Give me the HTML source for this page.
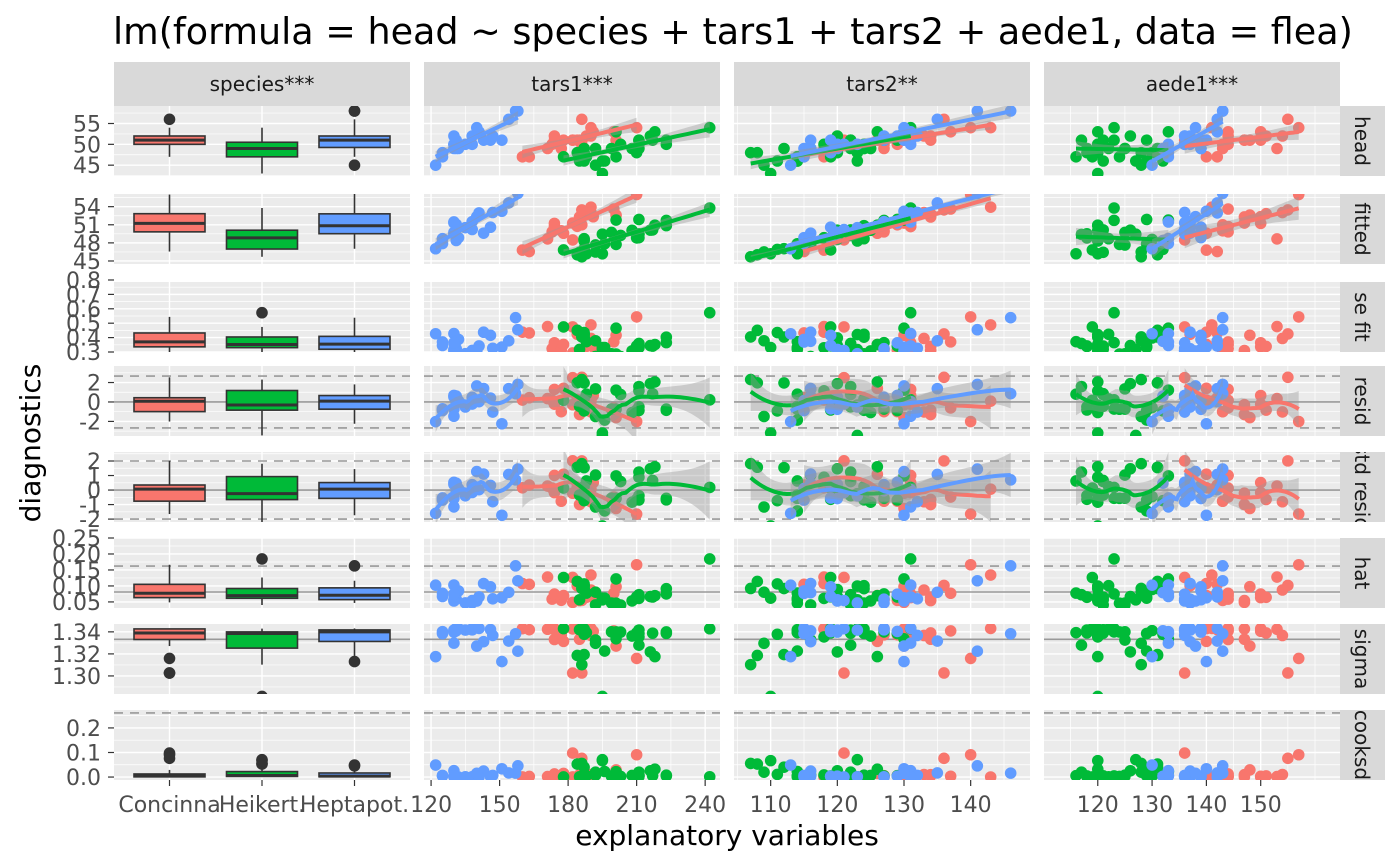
<!DOCTYPE html>
<html><head><meta charset="utf-8"><style>
html,body{margin:0;background:#fff;width:1400px;height:865px;overflow:hidden;}
svg{display:block;font-family:"DejaVu Sans","Liberation Sans",sans-serif;}
</style></head><body>
<svg id="chart" width="1400" height="865" viewBox="0 0 1400 865">
<text x="113" y="44" font-size="36.5" fill="#000">lm(formula = head ~ species + tars1 + tars2 + aede1, data = flea)</text>
<text transform="translate(40,443) rotate(-90)" text-anchor="middle" font-size="28" fill="#000">diagnostics</text>
<text x="727" y="845" text-anchor="middle" font-size="28" fill="#000">explanatory variables</text>
</svg>
<script>
// ---------- data (flea, approx) ----------
const speciesNames=["Concinna","Heikert.","Heptapot."];
const speciesColors=["#F8766D","#00BA38","#619CFF"];
const concinna=[[191,131,150,53],[185,134,147,51],[200,137,144,53],[173,127,144,50],[171,118,153,49],[160,118,140,47],[188,134,151,52],[186,129,143,50],[174,131,144,52],[163,115,142,47],[190,143,141,54],[174,131,150,51],[201,130,148,51],[190,133,154,52],[182,130,147,51],[184,131,137,51],[177,127,143,49],[178,126,140,51],[210,140,157,54],[182,121,136,51],[186,136,155,56]];
const heikert=[[186,107,128,48],[211,122,118,49],[201,114,124,47],[242,131,123,54],[184,108,131,48],[211,118,120,50],[217,122,121,51],[223,127,123,51],[208,125,120,49],[199,124,125,49],[211,129,129,51],[218,126,120,53],[203,122,121,50],[192,116,125,49],[195,123,127,46],[211,122,117,51],[187,123,120,48],[192,109,128,45],[223,124,120,50],[188,114,116,47],[216,120,126,52],[185,114,121,46],[178,119,119,47],[187,111,132,46],[187,112,131,49],[201,130,133,53],[187,120,130,48],[210,119,118,48],[196,114,129,46],[195,110,120,43],[187,124,122,49]];
const heptapot=[[158,141,143,58],[146,119,139,51],[151,130,140,51],[122,113,130,45],[138,121,136,50],[132,115,139,49],[131,127,137,51],[135,123,137,50],[125,119,133,48],[130,120,139,49],[130,131,133,50],[138,127,137,52],[130,120,136,50],[143,116,137,51],[154,135,142,56],[147,132,136,52],[141,131,142,53],[131,116,132,49],[125,115,133,47],[130,129,136,52],[140,130,138,54],[157,146,143,58]];
const rowNames=["head","fitted","se fit","resid","std resid","hat","sigma","cooksd"];
const colNames=["species***","tars1***","tars2**","aede1***"];
const rowTicks=[[45,50,55],[45,48,51,54],[0.3,0.4,0.5,0.6,0.7,0.8],[-2,0,2],[-2,-1,0,1,2],[0.05,0.10,0.15,0.20,0.25],null,[0.0,0.1,0.2]];
const rowTickLabels=[["45","50","55"],["45","48","51","54"],["0.3","0.4","0.5","0.6","0.7","0.8"],["-2","0","2"],["-2","-1","0","1","2"],["0.05","0.10","0.15","0.20","0.25"],null,["0.0","0.1","0.2"]];
const rowDomains=[[42.4,59.2],[44.5,56.1],[0.3,0.786],[-3.5,3.7],[-2.2,2.62],[0.031,0.25],null,[-0.012,0.273]];
const colTicks=[null,[120,150,180,210,240],[110,120,130,140],[120,130,140,150]];
const colDomains=[[0.4,3.6],[116.9,246.5],[104.5,148.9],[110.1,164.6]];

// ---------- layout ----------
const colX=[114,424,734,1044], colW=296;
const rowY=[106,194,282,366,452,538,624,710], rowH=70;
const NS="http://www.w3.org/2000/svg";
const svg=document.getElementById('chart');
function el(tag,attrs,parent){const e=document.createElementNS(NS,tag);for(const k in attrs)e.setAttribute(k,attrs[k]);(parent||svg).appendChild(e);return e;}

// ---------- assemble & fit ----------
const sp=[],T1=[],T2=[],A1=[],H=[];
[concinna,heikert,heptapot].forEach((arr,s)=>arr.forEach(r=>{sp.push(s);T1.push(r[0]);T2.push(r[1]);A1.push(r[2]);H.push(r[3]);}));
const n=H.length,p=6;
function solve(A,b){const m=A.length;const M=A.map((r,i)=>r.concat([b[i]]));for(let i=0;i<m;i++){let mx=i;for(let k=i+1;k<m;k++)if(Math.abs(M[k][i])>Math.abs(M[mx][i]))mx=k;[M[i],M[mx]]=[M[mx],M[i]];const d=M[i][i]||1e-12;for(let j=i;j<=m;j++)M[i][j]/=d;for(let k=0;k<m;k++)if(k!==i){const f=M[k][i];for(let j=i;j<=m;j++)M[k][j]-=f*M[i][j];}}return M.map(r=>r[m]);}
function inv(A){const m=A.length;const R=A.map(()=>new Array(m).fill(0));for(let j=0;j<m;j++){const col=solve(A,A.map((_,i)=>i===j?1:0));col.forEach((v,i)=>{R[i][j]=v;});}return R;}
const X=H.map((_,i)=>[1,sp[i]===1?1:0,sp[i]===2?1:0,T1[i],T2[i],A1[i]]);
const XtX=[...Array(p)].map((_,a)=>[...Array(p)].map((_,b)=>X.reduce((s,r)=>s+r[a]*r[b],0)));
const Xty=[...Array(p)].map((_,a)=>X.reduce((s,r,i)=>s+r[a]*H[i],0));
const beta=solve(XtX,Xty);const XtXi=inv(XtX);
const fit=X.map(r=>r.reduce((s,v,k)=>s+v*beta[k],0));
const res=H.map((y,i)=>y-fit[i]);
const hat=X.map(r=>{let s=0;for(let a=0;a<p;a++)for(let b=0;b<p;b++)s+=r[a]*XtXi[a][b]*r[b];return s;});
const RSS=res.reduce((s,e)=>s+e*e,0);const sig=Math.sqrt(RSS/(n-p));
const sefit=hat.map(h=>sig*Math.sqrt(h));
const stdres=res.map((e,i)=>e/(sig*Math.sqrt(1-hat[i])));
const sigi=res.map((e,i)=>Math.sqrt((RSS-e*e/(1-hat[i]))/(n-p-1)));
const cook=res.map((e,i)=>e*e*hat[i]/(p*sig*sig*(1-hat[i])**2));
// sigma row axis follows the model sigma
const sgTop=Math.round(sig*50)/50;
rowTicks[6]=[sgTop-0.04,sgTop-0.02,sgTop];
rowTickLabels[6]=rowTicks[6].map(v=>v.toFixed(2));
rowDomains[6]=[sgTop-0.0564,Math.max(...sigi)+0.004];
const rowVals=[H,fit,sefit,res,stdres,hat,sigi,cook];
const colVals=[sp.map(s=>s+1),T1,T2,A1];
const refLines=[[],[],[],[[0,0],[2*sig,1],[-2*sig,1]],[[0,0],[2,1],[-2,1]],[[p/n,0],[2*p/n,1]],[[sig,0]],[[0.261,1]]];

// ---------- helpers ----------
function sx(c,v){const d=colDomains[c];return colX[c]+(v-d[0])/(d[1]-d[0])*colW;}
function sy(r,v){const d=rowDomains[r];return rowY[r]+rowH-(v-d[0])/(d[1]-d[0])*rowH;}
function lmFit(xs,ys){const m=xs.length,mx=xs.reduce((a,b)=>a+b,0)/m,my=ys.reduce((a,b)=>a+b,0)/m;let sxx=0,sxy=0;xs.forEach((x,i)=>{sxx+=(x-mx)**2;sxy+=(x-mx)*(ys[i]-my);});const b=sxy/sxx,a=my-b*mx;const s2=ys.reduce((s,y,i)=>s+(y-a-b*xs[i])**2,0)/(m-2);return x=>{const y=a+b*x;return [y,2.04*Math.sqrt(s2*(1/m+(x-mx)**2/sxx))];};}
function loessFit(xs,ys){const m=xs.length,k=Math.ceil(0.75*m);
 const at=x0=>{const d=xs.map(x=>Math.abs(x-x0));const h=d.slice().sort((a,b)=>a-b)[k-1]*1.0001||1;const w=d.map(v=>v<h?(1-(v/h)**3)**3:0);
  const A=[[0,0,0],[0,0,0],[0,0,0]];const Z=xs.map(x=>[1,x-x0,(x-x0)**2]);Z.forEach((z,i)=>{for(let a=0;a<3;a++)for(let b=0;b<3;b++)A[a][b]+=w[i]*z[a]*z[b];});
  const Ai=inv(A);return Z.map((z,i)=>w[i]*(Ai[0][0]*z[0]+Ai[0][1]*z[1]+Ai[0][2]*z[2]));};
 const fitted=xs.map(x=>{const l=at(x);return l.reduce((s,v,i)=>s+v*ys[i],0);});
 const s=Math.sqrt(ys.reduce((a,y,i)=>a+(y-fitted[i])**2,0)/Math.max(1,m-4));
 return x=>{const l=at(x);return [l.reduce((a,v,i)=>a+v*ys[i],0),2*s*Math.sqrt(l.reduce((a,v)=>a+v*v,0))];};}
function quant(a,q){const s=a.slice().sort((x,y)=>x-y);const pos=(s.length-1)*q,lo=Math.floor(pos);return s[lo]+(s[Math.min(lo+1,s.length-1)]-s[lo])*(pos-lo);}

// ---------- strips ----------
colNames.forEach((nm,c)=>{
 const g=el('g',{});
 el('rect',{x:colX[c],y:62,width:colW,height:44,fill:'#D9D9D9'},g);
 el('text',{x:colX[c]+colW/2,y:91,'text-anchor':'middle','font-size':20,fill:'#1A1A1A'},g).textContent=nm;
});
const defs=el('defs',{});
rowNames.forEach((nm,r)=>{
 const cp=el('clipPath',{id:'sc'+r},defs);el('rect',{x:1340,y:rowY[r],width:45,height:rowH},cp);
 const g=el('g',{'clip-path':'url(#sc'+r+')'});
 el('rect',{x:1340,y:rowY[r],width:45,height:rowH,fill:'#D9D9D9'},g);
 el('text',{transform:`translate(1355,${rowY[r]+rowH/2}) rotate(90)`,'text-anchor':'middle','font-size':20,fill:'#1A1A1A'},g).textContent=nm;
});

// ---------- panels ----------
for(let r=0;r<8;r++){
 rowTicks[r].forEach((t,i)=>{const y=sy(r,t);
  el('line',{x1:108,x2:114,y1:y,y2:y,stroke:'#333','stroke-width':1.2});
  const tx=el('text',{x:101,y:y+8,'text-anchor':'end','font-size':22,fill:'#4D4D4D'});
  tx.textContent=rowTickLabels[r][i];});
 for(let c=0;c<4;c++){
  const cid='pc'+r+'_'+c;const cp=el('clipPath',{id:cid},defs);el('rect',{x:colX[c],y:rowY[r],width:colW,height:rowH},cp);
  const g=el('g',{'clip-path':`url(#${cid})`});
  
  
  el('rect',{x:colX[c],y:rowY[r],width:colW,height:rowH,fill:'#EBEBEB'},g);
  const tk=rowTicks[r],st=tk[1]-tk[0];
  for(let v=tk[0]-st*3;v<=tk[tk.length-1]+st*3;v+=st/2){const y=sy(r,v);const major=tk.some(t=>Math.abs(t-v)<st*1e-3);
   el('line',{x1:colX[c],x2:colX[c]+colW,y1:y,y2:y,stroke:'#fff','stroke-width':major?1.4:0.7},g);}
  if(c===0){[1,2,3].forEach(v=>{const x=sx(0,v);el('line',{x1:x,x2:x,y1:rowY[r],y2:rowY[r]+rowH,stroke:'#fff','stroke-width':1.4},g);});}
  else{const ct=colTicks[c],cs=ct[1]-ct[0];for(let v=ct[0]-cs*2;v<=ct[ct.length-1]+cs*2;v+=cs/2){const x=sx(c,v);const major=ct.some(t=>Math.abs(t-v)<cs*1e-3);
   el('line',{x1:x,x2:x,y1:rowY[r],y2:rowY[r]+rowH,stroke:'#fff','stroke-width':major?1.4:0.7},g);}}
  refLines[r].forEach(([v,d])=>{const y=sy(r,v);const ln=el('line',{x1:colX[c],x2:colX[c]+colW,y1:y,y2:y,stroke:'#999','stroke-width':1.6},g);if(d)ln.setAttribute('stroke-dasharray','9,7');
   });
  const yv=rowVals[r];
  if(c===0){
   for(let s=0;s<3;s++){
    const vals=yv.filter((_,i)=>sp[i]===s);const q1=quant(vals,0.25),q2=quant(vals,0.5),q3=quant(vals,0.75),iqr=q3-q1;
    const inl=vals.filter(v=>v>=q1-1.5*iqr&&v<=q3+1.5*iqr);const lo=Math.min(...inl),hi=Math.max(...inl);
    const cx=sx(0,s+1),bw=71;
    const bg=el('g',{},g);
    el('line',{x1:cx,x2:cx,y1:sy(r,hi),y2:sy(r,lo),stroke:'#333','stroke-width':1.6},bg);
    el('rect',{x:cx-bw/2,y:sy(r,q3),width:bw,height:Math.max(1,sy(r,q1)-sy(r,q3)),fill:speciesColors[s],stroke:'#333','stroke-width':1.6},bg);
    el('line',{x1:cx-bw/2,x2:cx+bw/2,y1:sy(r,q2),y2:sy(r,q2),stroke:'#333','stroke-width':3},bg);
    vals.filter(v=>v<q1-1.5*iqr||v>q3+1.5*iqr).forEach(v=>{const o=el('circle',{cx:cx,cy:sy(r,v),r:5.8,fill:'#333'},bg);
     });
   }
  } else {
   const xv=colVals[c];
   for(let i=0;i<n;i++){const pt=el('circle',{cx:sx(c,xv[i]),cy:sy(r,yv[i]),r:5.8,fill:speciesColors[sp[i]]},g);
    }
   if(r<=1||r===3||r===4){
    for(let s=0;s<3;s++){
     const xs=xv.filter((_,i)=>sp[i]===s),ys=yv.filter((_,i)=>sp[i]===s);
     const f=r<=1?lmFit(xs,ys):loessFit(xs,ys);
     const x0=Math.min(...xs),x1=Math.max(...xs);const pts=[];
     for(let k=0;k<=40;k++){const x=x0+(x1-x0)*k/40;const [y,se]=f(x);pts.push([x,y,se]);}
     const up=pts.map(q=>`${sx(c,q[0]).toFixed(1)},${sy(r,q[1]+q[2]).toFixed(1)}`),dn=pts.slice().reverse().map(q=>`${sx(c,q[0]).toFixed(1)},${sy(r,q[1]-q[2]).toFixed(1)}`);
     const rb=el('polygon',{points:up.concat(dn).join(' '),fill:'#999','fill-opacity':0.4},g);
     
     const ln=el('polyline',{points:pts.map(q=>`${sx(c,q[0]).toFixed(1)},${sy(r,q[1]).toFixed(1)}`).join(' '),fill:'none',stroke:speciesColors[s],'stroke-width':4},g);
     
    }
   }
  }
 }
}
// ---------- x axes ----------
for(let c=0;c<4;c++){
 const ticks=c===0?[1,2,3]:colTicks[c];
 ticks.forEach((t,i)=>{const x=sx(c,t);el('line',{x1:x,x2:x,y1:780,y2:786,stroke:'#333','stroke-width':1.2});
  const tx=el('text',{x:x,y:812,'text-anchor':'middle','font-size':22,fill:'#4D4D4D'});
  
  tx.textContent=c===0?speciesNames[i]:String(t);});
}
</script>
</body></html>
